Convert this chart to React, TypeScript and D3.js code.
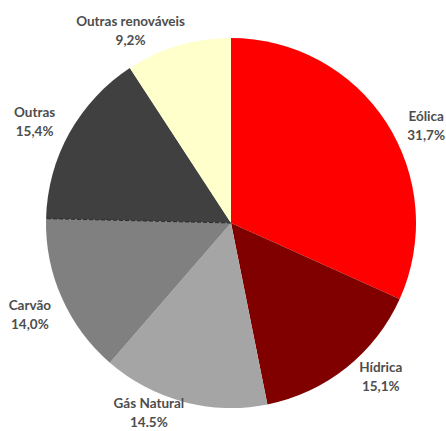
import React from "react";
import * as d3 from "d3";

const categories = ["Eólica", "Hídrica", "Gás Natural", "Carvão", "Outras", "Outras renováveis"];
const values = [31.7, 15.1, 14.5, 14.0, 15.4, 9.2];
const valueLabels = ["31,7%", "15,1%", "14.5%", "14,0%", "15,4%", "9,2%"];
const colors = ["#ff0000", "#800000", "#a5a5a5", "#808080", "#404040", "#ffffcc"];

// label layout (angle nudge in degrees, distance from centre)
const labelAngleNudge = [6.4, -5.6, 8.6, -0.6, -1.8, -11];
const labelDistance = [218, 215, 207, 221, 221, 217];

const W = 446;
const H = 431;
const CX = 231;
const CY = 223;
const R = 185;

export default function App() {
  const pie = d3.pie<number>().sort(null).value((d) => d);
  const arcs = pie(values);
  const arc = d3.arc<d3.PieArcDatum<number>>().innerRadius(0).outerRadius(R);
  const outras = arcs[4];
  const sepAngle = outras.startAngle;

  return (
    <svg
      width={W}
      height={H}
      style={{ position: "absolute", left: 0, top: 0, background: "#fff" }}
      fontFamily="Lato, 'Open Sans', sans-serif"
    >
      <g transform={`translate(${CX},${CY})`}>
        {arcs.map((a, i) => (
          <path key={i} d={arc(a) || ""} fill={colors[i]} />
        ))}
        <line
          x1={0}
          y1={0}
          x2={R * Math.sin(sepAngle)}
          y2={-R * Math.cos(sepAngle)}
          stroke="#2a2a2a"
          strokeWidth={1}
          strokeDasharray="4,2"
        />
        {arcs.map((a, i) => {
          const mid = (a.startAngle + a.endAngle) / 2 + (labelAngleNudge[i] * Math.PI) / 180;
          const d = labelDistance[i];
          const x = d * Math.sin(mid);
          const y = -d * Math.cos(mid);
          return (
            <text
              key={"t" + i}
              x={x}
              y={y}
              textAnchor="middle"
              fontSize={13.5}
              fontWeight={700}
              fill="#4d4d4d"
            >
              <tspan x={x} dy={-5}>{categories[i]}</tspan>
              <tspan x={x} dy={19}>{valueLabels[i]}</tspan>
            </text>
          );
        })}
      </g>
    </svg>
  );
}
